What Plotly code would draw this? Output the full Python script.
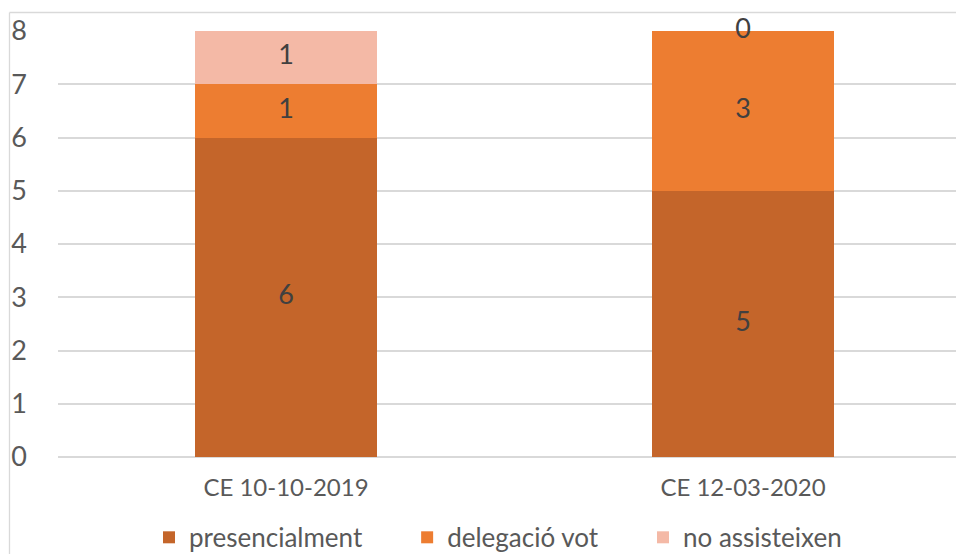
import plotly.graph_objects as go
import numpy as np

categories = ["CE 10-10-2019", "CE 12-03-2020"]
presencialment = [6, 5]
delegacio_vot = [1, 3]
no_assisteixen = [1, 0]
series_names = ["presencialment", "delegació vot", "no assisteixen"]
series_values = [presencialment, delegacio_vot, no_assisteixen]
series_colors = ["#C4652A", "#ED7D31", "#F4B9A6"]
y_ticks = [0, 1, 2, 3, 4, 5, 6, 7, 8]

FONT = "Lato"
PAD = "\u00a0" * 6
fig = go.Figure()
for k, (name, vals, col) in enumerate(zip(series_names, series_values, series_colors)):
    label = name + (PAD if k < len(series_names) - 1 else "")
    fig.add_trace(go.Bar(x=categories, y=vals, name=label, marker=dict(color=col, line=dict(width=0)),
                         width=0.4, hoverinfo="skip"))

# data labels at segment midpoints
base = np.zeros(len(categories))
lx, ly, lt = [], [], []
for vals in series_values:
    v = np.array(vals, dtype=float)
    for i, c in enumerate(categories):
        lx.append(c)
        ly.append(base[i] + v[i] / 2)
        lt.append(str(vals[i]))
    base = base + v
fig.add_trace(go.Scatter(x=lx, y=ly, text=lt, mode="text", textposition="middle center",
                         textfont=dict(family=FONT, size=27, color="#404040"),
                         showlegend=False, hoverinfo="skip", cliponaxis=False))

OFF = 8  # page body margin
W, H = 964 - OFF, 554 - OFF
L, R, T = 58 - OFF, 0, 31 - OFF
B = H - (457.5 - OFF)
pw, ph = W - L - R, H - T - B
def px2paper_x(p):
    return (p - OFF - L) / pw
def py2paper_y(p):
    return (H - B - (p - OFF)) / ph

fig.add_shape(type="line", xref="paper", yref="paper",
              x0=px2paper_x(9.5), x1=px2paper_x(9.5), y0=py2paper_y(12.5), y1=py2paper_y(570),
              line=dict(color="#D9D9D9", width=1.3))
fig.add_shape(type="line", xref="paper", yref="paper",
              x0=px2paper_x(9.5), x1=px2paper_x(980), y0=py2paper_y(12.5), y1=py2paper_y(12.5),
              line=dict(color="#D9D9D9", width=1.3))

fig.update_layout(
    width=W, height=H,
    margin=dict(l=L, r=R, t=T, b=B, autoexpand=False),
    barmode="stack",
    paper_bgcolor="white", plot_bgcolor="white",
    font=dict(family=FONT, color="#595959"),
    legend=dict(orientation="h", x=px2paper_x(498), xanchor="center", y=py2paper_y(538), yanchor="middle",
                font=dict(family=FONT, size=26, color="#595959"), traceorder="normal",
                itemwidth=30),
    showlegend=True,
)
# x range chosen so that category centres fall where the reference puts them
fig.update_xaxes(range=[-0.4989, 1.4836], showgrid=False, showline=False, ticks="",
                 tickfont=dict(family=FONT, size=24, color="#595959"), ticklabelstandoff=14)
fig.update_yaxes(range=[0, 8], tickvals=y_ticks, showgrid=True, gridcolor="#D9D9D9", gridwidth=1.5,
                 zeroline=True, zerolinecolor="#D9D9D9", zerolinewidth=1.5, showline=False,
                 tickfont=dict(family=FONT, size=27, color="#595959"), ticklabelstandoff=30)

fig.write_html("out.html")
